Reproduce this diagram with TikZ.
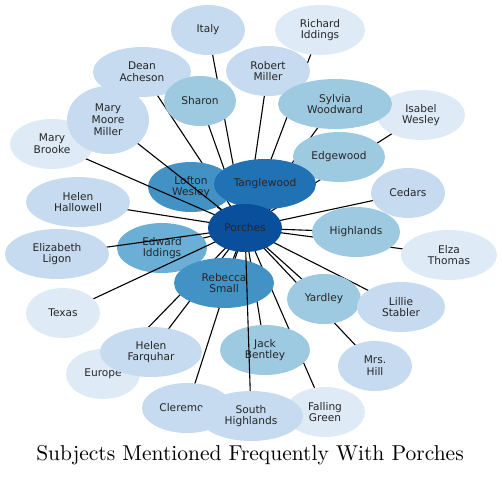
\documentclass[tikz,border=0pt]{standalone}
\usepackage{fontspec}
\newfontfamily\subjfont{DejaVu Sans}
\newfontfamily\titlefont[Extension=.otf]{lmroman10-regular}
\usetikzlibrary{shapes.geometric}
\definecolor{blue1}{HTML}{0A4F9B}
\definecolor{blue2}{HTML}{2171B5}
\definecolor{blue3}{HTML}{4292C6}
\definecolor{blue4}{HTML}{6BAED6}
\definecolor{blue5}{HTML}{9ECAE1}
\definecolor{blue6}{HTML}{C6DBEF}
\definecolor{blue7}{HTML}{DEEBF7}
\pgfdeclarelayer{edgelow}
\pgfdeclarelayer{nodelow}
\pgfdeclarelayer{edgehigh}
\pgfsetlayers{edgelow,nodelow,edgehigh,main}

\begin{document}
\begin{tikzpicture}[x=1pt, y=-1pt,
  subj/.style={ellipse, draw=none, inner sep=0pt, minimum height=50pt, align=center, text=black!85, font=\subjfont\fontsize{10.6}{11.8}\selectfont},
  tone1/.style={subj, fill=blue1},
  tone2/.style={subj, fill=blue2},
  tone3/.style={subj, fill=blue3},
  tone4/.style={subj, fill=blue4},
  tone5/.style={subj, fill=blue5},
  tone6/.style={subj, fill=blue6},
  tone7/.style={subj, fill=blue7},
  link/.style={black, line width=1.1pt}
]
\useasboundingbox (0,0) rectangle (502,477);

\begin{pgfonlayer}{nodelow}
\node[tone3, minimum width=86pt] (lofton) at (191,187) {Lofton\\Wesley};
\node[tone4, minimum width=90pt] (edward) at (162,248) {Edward\\Iddings};
\node[tone3, minimum width=100pt] (rebecca) at (224,283) {Rebecca\\Small};
\node[tone5, minimum width=90pt] (jack) at (265,350) {Jack\\Bentley};
\end{pgfonlayer}

\node[tone6, minimum width=74pt] (italy) at (208,30) {Italy};
\node[tone7, minimum width=90pt] (richard) at (320,30) {Richard\\Iddings};
\node[tone6, minimum width=84pt] (robert) at (268,71) {Robert\\Miller};
\node[tone6, minimum width=98pt] (dean) at (142,72) {Dean\\Acheson};
\node[tone5, minimum width=72pt] (sharon) at (200,101) {Sharon};
\node[tone7, minimum width=88pt] (isabel) at (421,115) {Isabel\\Wesley};
\node[tone5, minimum width=114pt] (sylvia) at (335,104) {Sylvia\\Woodward};
\node[tone7, minimum width=84pt] (brooke) at (52,144) {Mary\\Brooke};
\node[tone6, minimum width=82pt, minimum height=68pt] (moore) at (108,120) {Mary\\Moore\\Miller};
\node[tone5, minimum width=92pt] (edgewood) at (339,157) {Edgewood};
\node[tone6, minimum width=74pt] (cedars) at (408,193) {Cedars};
\node[tone6, minimum width=104pt] (hallowell) at (78,202) {Helen\\Hallowell};
\node[tone5, minimum width=88pt] (highlands) at (356,232) {Highlands};
\node[tone6, minimum width=104pt] (ligon) at (57,254) {Elizabeth\\Ligon};
\node[tone7, minimum width=96pt] (elza) at (449,255) {Elza\\Thomas};
\node[tone7, minimum width=74pt] (texas) at (63,313) {Texas};
\node[tone5, minimum width=74pt] (yardley) at (324,299) {Yardley};
\node[tone6, minimum width=88pt] (lillie) at (401,307) {Lillie\\Stabler};
\node[tone7, minimum width=74pt] (europe) at (103,374) {Europe};
\node[tone6, minimum width=102pt] (farquhar) at (151,352) {Helen\\Farquhar};
\node[tone6, minimum width=74pt] (hill) at (375,366) {Mrs.\\Hill};
\node[tone6, minimum width=90pt] (cleremont) at (187,408) {Cleremont};
\node[tone7, minimum width=80pt] (falling) at (325,412) {Falling\\Green};
\node[tone6, minimum width=104pt] (south) at (251,416) {South\\Highlands};
\node[tone2, minimum width=102pt] (tangle) at (265,184) {Tanglewood};
\node[tone1, minimum width=74pt, minimum height=48pt] (porch) at (245,228) {Porches};

\begin{pgfonlayer}{edgelow}
\foreach \n in {italy,richard,robert,dean,sharon,isabel,sylvia,edgewood,lofton,tangle,cedars,hallowell,highlands,elza,edward,rebecca,yardley,lillie,hill,farquhar,europe,jack,falling,cleremont}
  \draw[link] (porch.center) -- (\n.center);
\end{pgfonlayer}

\begin{pgfonlayer}{edgehigh}
\foreach \n in {moore,brooke,ligon,texas,south}
  \draw[link] (porch.center) -- (\n.center);
\end{pgfonlayer}

\node[font=\titlefont\fontsize{21.5}{24}\selectfont] (title) at (250,455) {Subjects Mentioned Frequently With Porches};
\end{tikzpicture}
\end{document}
